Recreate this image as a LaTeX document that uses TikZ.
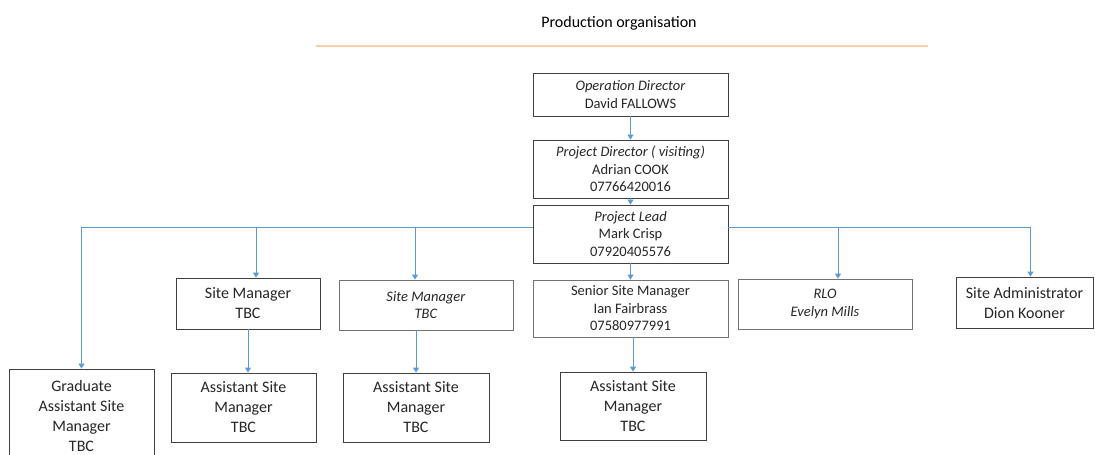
\documentclass[tikz,border=0pt]{standalone}
\usepackage{fontspec}
\setmainfont{Carlito}
\usetikzlibrary{arrows.meta}
\definecolor{linkblue}{HTML}{5B9BD5}
\definecolor{rulepeach}{HTML}{F8CBAD}

\begin{document}
\begin{tikzpicture}[x=1pt,y=-1pt,
    box/.style={shape=rectangle,draw=black!75,line width=0.9pt,align=center,inner sep=0pt,text=black!85},
    softbox/.style={box,draw=black!55},
    big/.style={font=\fontsize{16}{20}\selectfont},
    small/.style={font=\fontsize{14.5}{17.5}\selectfont},
    link/.style={draw=linkblue,line width=0.9pt,-{Triangle[length=5pt,width=6pt]}}]
    \useasboundingbox (0,0) rectangle (1095,455);
    \node[font=\fontsize{16}{20}\selectfont] (title) at (619,23) {Production organisation};
    \coordinate (ruleL) at (316,46);
    \coordinate (ruleR) at (928,46);
    \draw[rulepeach,line width=2pt] (ruleL) -- (ruleR);
    \node[box,small,minimum width=195,minimum height=43] (OD) at (630.5,94.5) {\textit{Operation Director}\\David FALLOWS};
    \node[box,small,minimum width=195,minimum height=58] (PD) at (630.5,169) {\textit{Project Director ( visiting)}\\Adrian COOK\\07766420016};
    \node[box,small,minimum width=195,minimum height=58] (PL) at (630.5,234) {\textit{Project Lead}\\Mark Crisp\\07920405576};
    \node[softbox,small,minimum width=195,minimum height=57] (ssm) at (630.5,308.5) {Senior Site Manager\\Ian Fairbrass\\07580977991};
    \node[box,big,minimum width=146,minimum height=68] (asm3) at (633,406) {Assistant Site\\Manager\\TBC};
    \node[box,big,minimum width=145,minimum height=93] (grad) at (81.5,415.5) {Graduate\\Assistant Site\\Manager\\TBC};
    \node[box,big,minimum width=144,minimum height=51] (sm1) at (248,303.5) {Site Manager\\TBC};
    \node[softbox,small,minimum width=174,minimum height=50] (sm2) at (426,305) {\textit{Site Manager}\\\textit{TBC}};
    \node[box,big,minimum width=145,minimum height=69] (asm1) at (243.5,407.5) {Assistant Site\\Manager\\TBC};
    \node[box,big,minimum width=146,minimum height=69] (asm2) at (416,407.5) {Assistant Site\\Manager\\TBC};
    \node[softbox,small,minimum width=174,minimum height=50] (rlo) at (825,304) {\textit{RLO}\\\textit{Evelyn Mills}};
    \node[box,big,minimum width=137,minimum height=51] (sa) at (1024.5,302.5) {Site Administrator\\Dion Kooner};
    \coordinate (busL) at (533,227);
    \coordinate (busR) at (728,227);
    \draw[link] (OD) -- (PD);
    \draw[link] (PD) -- (PL);
    \draw[link] (PL) -- (ssm);
    \draw[link] (ssm.south -| asm3.north) -- (asm3.north);
    \draw[link] (busL) -| (grad.north);
    \draw[link] ([xshift=8]sm1.north |- busL) -- ([xshift=8]sm1.north);
    \draw[link] ([xshift=-11]sm2.north |- busL) -- ([xshift=-11]sm2.north);
    \draw[link] (sm1.south) -- (sm1.south |- asm1.north);
    \draw[link] (asm2.north |- sm2.south) -- (asm2.north);
    \draw[link] (busR) -| ([xshift=13]rlo.north);
    \draw[link] ([xshift=13]rlo.north |- busR) -| ([xshift=6]sa.north);
\end{tikzpicture}
\end{document}
